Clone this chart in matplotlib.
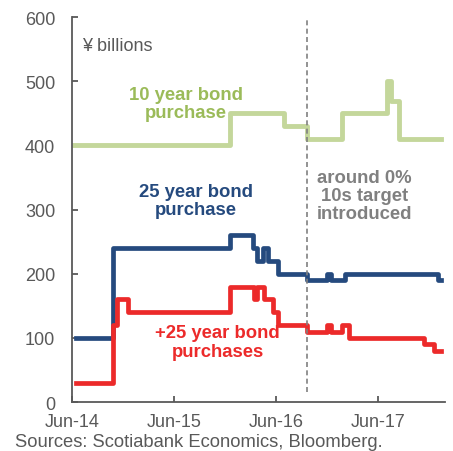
import matplotlib
matplotlib.use("Agg")
import matplotlib.pyplot as plt
import matplotlib.dates as mdates
import pandas as pd

plt.rcParams['font.family'] = ['Liberation Sans', 'DejaVu Sans']

# 10 year bond purchase (step series: change dates and levels)
ten_dates = ["2014-06-01", "2015-12-20", "2016-07-01", "2016-09-21", "2017-01-25",
             "2017-07-03", "2017-07-18", "2017-08-15", "2018-01-15"]
ten_vals = [400, 450, 430, 410, 450, 500, 470, 410, 410]

# 25 year bond purchase
tf_dates = ["2014-06-15", "2014-10-25", "2015-12-20", "2016-03-10", "2016-03-25",
            "2016-04-15", "2016-05-05", "2016-06-10", "2016-09-21", "2016-12-01",
            "2016-12-15", "2017-02-05", "2017-12-10", "2018-01-05", "2018-01-15"]
tf_vals = [100, 240, 260, 240, 220, 240, 220, 200, 190, 200,
           190, 200, 200, 190, 190]

# +25 year bond purchases
p25_dates = ["2014-06-15", "2014-10-25", "2014-11-10", "2014-12-20", "2015-12-20",
             "2016-03-15", "2016-03-25", "2016-04-20", "2016-05-20", "2016-06-10",
             "2016-09-21", "2016-12-01", "2016-12-15", "2017-01-25", "2017-02-20",
             "2017-11-15", "2017-12-20", "2018-01-15"]
p25_vals = [30, 120, 160, 140, 180, 160, 180, 160, 140, 120,
            110, 120, 110, 120, 100, 90, 80, 80]

xticks = ["2014-06-01", "2015-06-01", "2016-06-01", "2017-06-01"]
xtick_labels = ["Jun-14", "Jun-15", "Jun-16", "Jun-17"]
yticks = [0, 100, 200, 300, 400, 500, 600]
event_date = "2016-09-21"

fig = plt.figure(figsize=(4.53, 4.52), dpi=100)
ax = fig.add_axes([0.159, 0.108, 0.823, 0.852])

c_green = "#c4d79b"
c_green_txt = "#9bbb59"
c_blue = "#254a7e"
c_red = "#ec2a2a"
c_grey = "#595959"

ax.plot(pd.to_datetime(ten_dates), ten_vals, drawstyle="steps-post", color=c_green, lw=3.5)
ax.plot(pd.to_datetime(tf_dates), tf_vals, drawstyle="steps-post", color=c_blue, lw=3.4)
ax.plot(pd.to_datetime(p25_dates), p25_vals, drawstyle="steps-post", color=c_red, lw=3.4)

ax.axvline(pd.Timestamp(event_date), ymin=0.026, ymax=1.0, color="#808080", lw=1.2, ls=(0, (3, 2)))

ax.set_ylim(0, 600)
ax.set_xlim(pd.Timestamp("2014-06-01"), pd.Timestamp("2018-01-28"))
ax.set_yticks(yticks)
ax.set_xticks(pd.to_datetime(xticks))
ax.set_xticklabels(xtick_labels)

for s in ["top", "right"]:
    ax.spines[s].set_visible(False)
for s in ["left", "bottom"]:
    ax.spines[s].set_color(c_grey)
    ax.spines[s].set_linewidth(1.3)
ax.tick_params(axis="both", direction="in", length=4, width=1.3, color=c_grey,
               labelcolor=c_grey, labelsize=13)
ax.tick_params(axis="y", pad=12)
ax.tick_params(axis="x", pad=8)

ax.text(0.028, 0.925, "¥ billions", transform=ax.transAxes, fontsize=13, color=c_grey,
        ha="left", va="center")

def xd(s):
    return mdates.date2num(pd.Timestamp(s))

ax.text(xd("2015-07-15"), 465, "10 year bond\npurchase", color=c_green_txt, fontsize=13.3,
        fontweight="bold", ha="center", va="center", linespacing=1.1)
ax.text(xd("2015-08-20"), 314, "25 year bond\npurchase", color=c_blue, fontsize=13.3,
        fontweight="bold", ha="center", va="center", linespacing=1.1)
ax.text(xd("2015-11-05"), 94, "+25 year bond\npurchases", color=c_red, fontsize=13.3,
        fontweight="bold", ha="center", va="center", linespacing=1.1)
ax.text(xd("2017-04-15"), 322, "around 0%\n10s target\nintroduced", color="#808080",
        fontsize=13.3, fontweight="bold", ha="center", va="center", linespacing=1.1)

fig.text(0.033, 5.0 / 452, "Sources: Scotiabank Economics, Bloomberg.", fontsize=13.2,
         color=c_grey, ha="left", va="baseline")

fig.savefig("out.png", dpi=100)
